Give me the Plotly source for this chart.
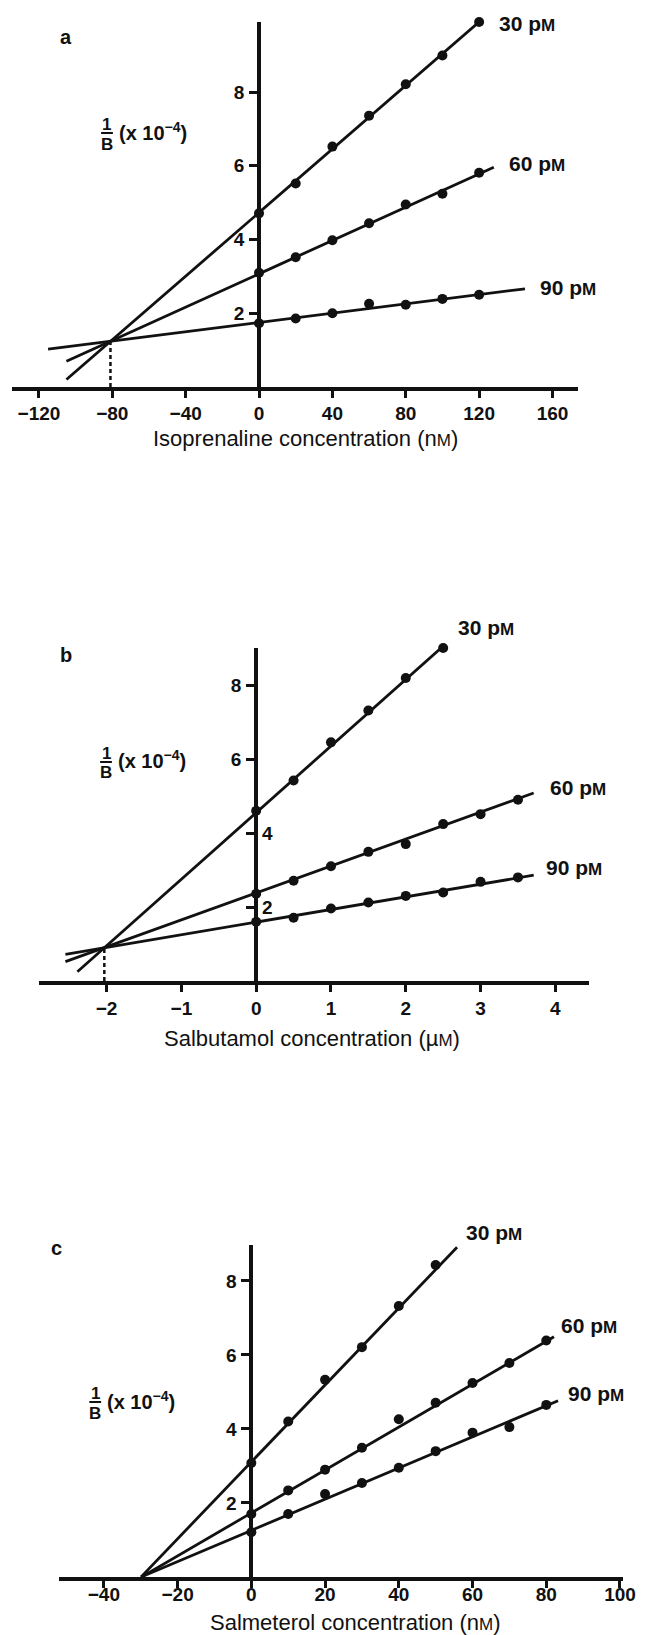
import plotly.graph_objects as go

W, H = 652, 1635

series_names = ["30 pM", "60 pM", "90 pM"]
y_ticks = [2, 4, 6, 8]

# ---- Panel a : isoprenaline ----
iso_conc = [0, 20, 40, 60, 80, 100, 120]
iso_30 = [4.71, 5.52, 6.52, 7.36, 8.21, 8.99, 9.90]
iso_60 = [3.10, 3.52, 3.98, 4.44, 4.95, 5.24, 5.81]
iso_90 = [1.73, 1.86, 2.00, 2.26, 2.23, 2.39, 2.50]
iso_fit_intercept = [4.73, 3.07, 1.75]
iso_fit_slope = [0.0431, 0.0226, 0.0063]
iso_fit_start = [-105, -105, -115]
iso_fit_end = [120, 128, 145]
iso_xticks = [-120, -80, -40, 0, 40, 80, 120, 160]
iso_intersect = [-81, 1.24]

# ---- Panel b : salbutamol ----
sal_conc_30 = [0, 0.5, 1.0, 1.5, 2.0, 2.5]
sal_conc = [0, 0.5, 1.0, 1.5, 2.0, 2.5, 3.0, 3.5]
sal_30 = [4.60, 5.42, 6.45, 7.31, 8.19, 9.00]
sal_60 = [2.36, 2.71, 3.10, 3.49, 3.70, 4.24, 4.51, 4.90]
sal_90 = [1.60, 1.71, 1.96, 2.12, 2.30, 2.39, 2.68, 2.80]
sal_fit_intercept = [4.55, 2.38, 1.59]
sal_fit_slope = [1.80, 0.728, 0.342]
sal_fit_start = [-2.39, -2.55, -2.55]
sal_fit_end = [2.63, 3.71, 3.71]
sal_xticks = [-2, -1, 0, 1, 2, 3, 4]
sal_intersect = [-2.03, 0.90]

# ---- Panel c : salmeterol ----
salm_conc_30 = [0, 10, 20, 30, 40, 50]
salm_conc = [0, 10, 20, 30, 40, 50, 60, 70, 80]
salm_30 = [3.08, 4.20, 5.33, 6.21, 7.32, 8.43]
salm_60 = [1.70, 2.34, 2.90, 3.49, 4.26, 4.71, 5.24, 5.78, 6.39]
salm_90 = [1.21, 1.70, 2.24, 2.54, 2.95, 3.40, 3.90, 4.05, 4.65]
salm_fit_intercept = [3.11, 1.73, 1.26]
salm_fit_slope = [0.1039, 0.058, 0.0421]
salm_fit_start = [-29.9, -29.9, -29.9]
salm_fit_end = [55.8, 82.1, 83.2]
salm_xticks = [-40, -20, 0, 20, 40, 60, 80, 100]

FONT = "Liberation Sans, Arial, sans-serif"
BLACK = "#111111"


def px_x(v):
    return v / W


def px_y(v):
    return 1 - v / H


panels = [
    dict(letter="a", xs=[iso_conc, iso_conc, iso_conc], ys=[iso_30, iso_60, iso_90],
         icpt=iso_fit_intercept, slope=iso_fit_slope, x0=iso_fit_start, x1=iso_fit_end,
         xticks=iso_xticks, xrange=[-134.8, 174.0], yrange=[0, 9.9],
         xdom=[12, 589], ydom=[22, 387], yaxis_px=264,
         title="Isoprenaline concentration (n<span style='font-size:17px'>M</span>)",
         title_pos=(311, 438), letter_pos=(67, 37), ylab_pos=(109, 133),
         label_pos=[(506, 23), (517, 164), (548, 287)],
         standoff=-1, dashed=iso_intersect, inside_ticks=[]),
    dict(letter="b", xs=[sal_conc_30, sal_conc, sal_conc], ys=[sal_30, sal_60, sal_90],
         icpt=sal_fit_intercept, slope=sal_fit_slope, x0=sal_fit_start, x1=sal_fit_end,
         xticks=sal_xticks, xrange=[-2.905, 4.449], yrange=[0, 9.0],
         xdom=[39.6, 600], ydom=[648, 981], yaxis_px=261,
         title="Salbutamol concentration (\u00b5<span style='font-size:17px'>M</span>)",
         title_pos=(318, 1038), letter_pos=(67, 655), ylab_pos=(108, 762),
         label_pos=[(465, 627), (558, 787), (554, 868)],
         standoff=0, dashed=sal_intersect, inside_ticks=[2, 4]),
    dict(letter="c", xs=[salm_conc_30, salm_conc, salm_conc], ys=[salm_30, salm_60, salm_90],
         icpt=salm_fit_intercept, slope=salm_fit_slope, x0=salm_fit_start, x1=salm_fit_end,
         xticks=salm_xticks, xrange=[-52.2, 100.9], yrange=[0, 8.97],
         xdom=[60, 635], ydom=[1245, 1577], yaxis_px=256,
         title="Salmeterol concentration (n<span style='font-size:17px'>M</span>)",
         title_pos=(362, 1622), letter_pos=(58, 1248), ylab_pos=(97, 1402),
         label_pos=[(473, 1232), (569, 1325), (577, 1393)],
         standoff=-10, dashed=None, inside_ticks=[]),
]

fig = go.Figure()
annotations = []
shapes = []
layout_axes = {}

for i, p in enumerate(panels):
    n = "" if i == 0 else str(i + 1)
    xa, ya = "x" + n, "y" + n
    for k in range(3):
        fx = [p["x0"][k], p["x1"][k]]
        fy = [p["icpt"][k] + p["slope"][k] * v for v in fx]
        fig.add_trace(go.Scatter(x=fx, y=fy, mode="lines", xaxis=xa, yaxis=ya,
                                 line=dict(color=BLACK, width=2.8), cliponaxis=False,
                                 showlegend=False, hoverinfo="skip"))
        fig.add_trace(go.Scatter(x=p["xs"][k], y=p["ys"][k], mode="markers", xaxis=xa, yaxis=ya,
                                 marker=dict(color=BLACK, size=10), cliponaxis=False,
                                 name=series_names[k], showlegend=False))
        lx, ly = p["label_pos"][k]
        annotations.append(dict(
            text=series_names[k][:-1] + "<span style='font-size:17px'>M</span>",
            x=px_x(lx), y=px_y(ly), xref="paper", yref="paper", xanchor="left", yanchor="middle",
            showarrow=False, font=dict(family=FONT, size=21, color=BLACK, weight="bold")))
    if p["dashed"] is not None:
        dx, dy = p["dashed"]
        fig.add_trace(go.Scatter(x=[dx, dx], y=[0, dy], mode="lines", xaxis=xa, yaxis=ya,
                                 line=dict(color=BLACK, width=2.5, dash="4px,3px"),
                                 showlegend=False, hoverinfo="skip"))
    labeled = [t for t in y_ticks if t not in p["inside_ticks"]]
    for t in p["inside_ticks"]:
        annotations.append(dict(text=str(t), x=p["yaxis_px"] / W + 4 / W, y=t,
                                xref="paper", yref=ya, xanchor="left", yanchor="middle",
                                showarrow=False, font=dict(family=FONT, size=19, color=BLACK, weight="bold")))
    layout_axes["xaxis" + n] = dict(
        domain=[p["xdom"][0] / W, p["xdom"][1] / W], range=p["xrange"], anchor=ya,
        tickvals=p["xticks"], ticks="outside", ticklen=7, tickwidth=3, tickcolor=BLACK,
        showline=True, linewidth=4, linecolor=BLACK, showgrid=False, zeroline=False,
        ticklabelstandoff=p["standoff"],
        tickfont=dict(family=FONT, size=19, color=BLACK, weight="bold"))
    yax = dict(
        domain=[px_y(p["ydom"][1]), px_y(p["ydom"][0])], range=p["yrange"],
        anchor="free", position=p["yaxis_px"] / W, side="left",
        tickvals=labeled, ticks="outside", ticklen=8, tickwidth=3,
        tickcolor=BLACK, showline=True, linewidth=4, linecolor=BLACK,
        showgrid=False, zeroline=False, ticklabelstandoff=1,
        tickfont=dict(family=FONT, size=19, color=BLACK, weight="bold"))
    if p["inside_ticks"]:
        yax["minor"] = dict(tickvals=p["inside_ticks"], ticks="outside", ticklen=8,
                            tickwidth=3, tickcolor=BLACK, showgrid=False)
    layout_axes["yaxis" + n] = yax
    tx, ty = p["title_pos"]
    annotations.append(dict(text=p["title"], x=px_x(tx), y=px_y(ty), xref="paper", yref="paper",
                            xanchor="center", yanchor="middle", showarrow=False,
                            font=dict(family=FONT, size=22, color=BLACK)))
    lx, ly = p["letter_pos"]
    annotations.append(dict(text="<b>" + p["letter"] + "</b>", x=px_x(lx), y=px_y(ly),
                            xref="paper", yref="paper", xanchor="center", yanchor="middle",
                            showarrow=False, font=dict(family=FONT, size=20, color=BLACK)))
    # 1/B (x 10^-4) label
    bx, by = p["ylab_pos"]
    annotations.append(dict(text="1", x=px_x(bx), y=px_y(by - 9), xref="paper", yref="paper",
                            xanchor="center", yanchor="middle", showarrow=False,
                            font=dict(family=FONT, size=17, color=BLACK, weight="bold")))
    annotations.append(dict(text="B", x=px_x(bx), y=px_y(by + 11), xref="paper", yref="paper",
                            xanchor="center", yanchor="middle", showarrow=False,
                            font=dict(family=FONT, size=17, color=BLACK, weight="bold")))
    shapes.append(dict(type="line", xref="paper", yref="paper",
                       x0=px_x(bx - 6), x1=px_x(bx + 6), y0=px_y(by), y1=px_y(by),
                       line=dict(color=BLACK, width=2)))
    annotations.append(dict(text="(x 10<sup>\u22124</sup>)", x=px_x(bx + 10), y=px_y(by - 2),
                            xref="paper", yref="paper", xanchor="left", yanchor="middle",
                            showarrow=False, font=dict(family=FONT, size=20, color=BLACK, weight="bold")))

fig.update_layout(
    width=W, height=H, margin=dict(l=0, r=0, t=0, b=0),
    paper_bgcolor="white", plot_bgcolor="white",
    annotations=annotations, shapes=shapes, showlegend=False,
    **layout_axes)

fig.write_html("out.html")
